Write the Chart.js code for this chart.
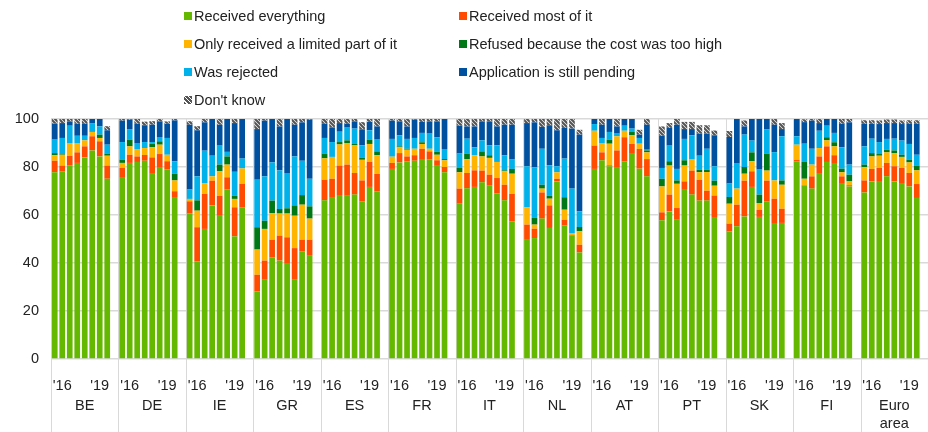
<!DOCTYPE html>
<html>
<head>
<meta charset="utf-8">
<script src="https://cdn.jsdelivr.net/npm/chart.js@4/dist/chart.umd.min.js"></script>
<style>
  body { margin: 0; background: #fff; }
  #wrap { position: relative; width: 928px; height: 432px; }
  #legend {
    position: absolute; left: 184px; top: 2px;
    display: grid; grid-template-columns: 275px auto;
    font: 14.5px "Liberation Sans", Arial, sans-serif; color: #222;
  }
  #legend .item { display: flex; align-items: center; height: 28px; white-space: nowrap; }
  #legend .sw { width: 8px; height: 8px; margin-right: 2px; }
</style>
</head>
<body>
<div id="wrap">
  <canvas id="chart" width="928" height="432"></canvas>
  <div id="legend"></div>
</div>
<script>
const countries = ['BE', 'DE', 'IE', 'GR', 'ES', 'FR', 'IT', 'NL', 'AT', 'PT', 'SK', 'FI', ['Euro', 'area']];
const yearTicks = ["'16", "'19"];
const seriesNames = ['Received everything', 'Received most of it', 'Only received a limited part of it',
  'Refused because the cost was too high', 'Was rejected', 'Application is still pending', "Don't know"];

// 8 survey rounds per country, in the order of countries above
const receivedAll = [
  77.8, 78.2, 80.7, 81.7, 84.0, 86.9, 84.4, 75.1,
  75.8, 81.7, 82.1, 82.6, 77.5, 80.0, 78.9, 67.5,
  60.6, 40.7, 54.2, 64.0, 60.0, 70.6, 51.1, 63.2,
  28.2, 33.0, 42.4, 41.0, 40.0, 33.0, 44.9, 43.0,
  66.1, 67.5, 68.3, 68.0, 68.5, 65.6, 71.7, 69.9,
  79.2, 81.9, 82.4, 82.6, 83.3, 83.1, 80.8, 77.8,
  64.7, 71.1, 71.7, 73.6, 72.2, 68.9, 66.1, 57.4,
  50.0, 50.4, 58.5, 54.6, 74.0, 55.6, 51.4, 44.4,
  79.2, 82.8, 80.3, 80.0, 82.4, 85.8, 79.3, 76.1,
  57.8, 61.5, 58.0, 70.8, 68.5, 66.0, 66.0, 58.8,
  53.2, 55.3, 59.4, 71.7, 59.2, 65.7, 56.3, 56.7,
  82.4, 72.4, 71.0, 77.5, 82.1, 81.3, 73.3, 71.9,
  69.4, 74.0, 73.8, 76.1, 74.0, 73.3, 71.9, 67.1
];
const receivedMost = [
  4.8, 2.4, 4.0, 4.4, 4.6, 5.9, 6.3, 5.5,
  3.8, 3.4, 2.3, 2.4, 6.5, 5.4, 3.5, 2.4,
  5.1, 14.2, 14.6, 10.3, 8.0, 5.1, 12.1, 9.8,
  6.9, 8.0, 7.3, 10.4, 10.7, 13.2, 4.8, 6.7,
  8.6, 7.6, 12.3, 13.0, 9.0, 8.8, 10.5, 7.2,
  2.5, 3.9, 2.0, 2.3, 4.3, 3.4, 2.0, 2.2,
  6.3, 6.4, 6.9, 4.9, 4.6, 6.5, 6.5, 11.4,
  6.0, 3.9, 10.9, 9.4, 1.1, 2.4, 0.3, 3.2,
  9.7, 3.3, 0.4, 6.9, 10.0, 3.8, 8.2, 7.2,
  3.3, 7.0, 4.9, 3.2, 10.0, 8.7, 4.1, 9.3,
  3.2, 9.0, 14.9, 6.5, 3.0, 8.6, 10.5, 5.9,
  0.5, 0.0, 5.1, 6.9, 6.5, 3.6, 2.8, 0.5,
  5.0, 5.2, 5.8, 5.6, 6.3, 6.3, 5.6, 5.8
];
const limitedPart = [
  2.3, 4.5, 5.3, 3.9, 2.5, 1.8, 1.4, 4.1,
  2.1, 3.5, 3.1, 2.9, 4.3, 3.9, 2.7, 4.5,
  1.0, 6.9, 4.5, 1.8, 10.2, 5.3, 3.5, 6.4,
  10.5, 13.2, 11.1, 9.2, 9.9, 13.5, 14.6, 8.8,
  8.9, 9.1, 8.8, 9.0, 11.5, 8.6, 7.4, 7.8,
  2.6, 2.4, 2.8, 2.7, 2.0, 1.1, 2.3, 2.8,
  6.8, 5.8, 6.3, 5.9, 7.0, 6.7, 5.6, 8.4,
  7.3, 1.7, 1.6, 2.8, 2.7, 4.2, 0.8, 5.6,
  6.2, 3.9, 9.0, 5.9, 2.7, 3.6, 2.2, 2.8,
  10.8, 12.1, 10.1, 6.6, 4.6, 3.1, 7.8, 4.1,
  8.3, 6.7, 2.9, 4.2, 2.8, 4.2, 7.6, 10.0,
  6.4, 2.7, 4.9, 3.5, 2.5, 3.7, 1.7, 1.6,
  5.5, 5.2, 5.1, 4.4, 5.5, 4.6, 4.4, 5.7
];
const refusedCost = [
  0.9, 0.3, 0.0, 0.0, 0.0, 0.0, 1.4, 0.9,
  1.4, 2.8, 0.0, 0.0, 1.4, 1.4, 0.0, 2.8,
  0.0, 4.3, 0.0, 0.0, 2.8, 3.4, 1.3, 0.0,
  9.3, 3.4, 5.2, 1.9, 2.2, 4.3, 4.0, 5.1,
  2.0, 0.0, 1.0, 1.1, 0.6, 0.8, 1.8, 1.6,
  0.0, 0.4, 0.4, 0.0, 0.7, 0.0, 1.2, 0.5,
  1.8, 2.3, 0.0, 2.1, 1.1, 0.0, 0.4, 2.0,
  0.0, 2.8, 1.6, 1.2, 0.0, 5.2, 0.0, 1.8,
  0.0, 0.0, 1.7, 0.0, 0.0, 1.4, 0.0, 0.8,
  3.2, 1.8, 1.4, 2.2, 0.0, 1.1, 1.0, 2.1,
  2.8, 0.0, 2.8, 3.7, 3.5, 7.1, 0.0, 1.8,
  0.0, 7.0, 0.0, 0.0, 1.3, 1.7, 1.5, 2.8,
  1.1, 1.4, 0.7, 1.1, 1.1, 0.9, 1.2, 2.0
];
const rejected = [
  5.6, 6.7, 7.2, 3.0, 1.9, 3.5, 3.4, 3.7,
  7.3, 4.4, 2.5, 2.5, 0.7, 1.8, 7.0, 5.2,
  3.9, 10.0, 13.5, 8.6, 7.9, 1.9, 10.0, 4.1,
  19.8, 18.5, 15.9, 16.1, 14.7, 20.4, 14.3, 11.5,
  6.5, 6.2, 4.3, 5.3, 6.4, 5.2, 3.9, 4.9,
  7.4, 4.6, 4.1, 4.5, 3.9, 6.3, 6.1, 4.2,
  6.0, 6.2, 3.3, 4.6, 4.1, 6.9, 6.3, 3.9,
  17.0, 21.1, 15.0, 12.7, 2.5, 16.1, 18.5, 6.5,
  2.8, 2.1, 3.2, 1.1, 2.1, 1.4, 2.4, 0.3,
  4.5, 6.5, 4.8, 8.9, 10.1, 5.8, 8.7, 6.0,
  5.6, 10.4, 13.5, 4.9, 10.4, 10.0, 11.8, 18.4,
  3.5, 7.6, 6.6, 7.2, 4.8, 3.9, 8.9, 4.2,
  7.6, 6.0, 5.0, 4.5, 4.9, 5.9, 6.5, 4.5
];
const pending = [
  6.7, 6.2, 1.8, 5.0, 5.0, 2.0, 3.1, 6.0,
  8.9, 3.9, 8.0, 7.0, 7.2, 6.5, 5.9, 17.0,
  27.0, 19.2, 11.8, 15.3, 8.7, 13.7, 20.3, 16.5,
  21.1, 23.2, 18.1, 18.3, 22.5, 13.2, 16.0, 24.6,
  5.9, 6.1, 3.6, 1.6, 3.0, 6.7, 3.5, 5.5,
  7.6, 5.8, 5.2, 7.6, 4.6, 5.1, 6.6, 12.5,
  11.6, 5.1, 8.7, 7.9, 10.0, 7.9, 12.7, 14.5,
  18.0, 18.7, 9.1, 16.7, 15.0, 12.8, 25.0, 32.0,
  2.5, 5.5, 5.8, 3.0, 3.2, 4.4, 1.4, 10.4,
  13.4, 7.4, 18.4, 4.1, 2.6, 9.2, 6.3, 12.9,
  19.4, 18.6, 3.4, 9.0, 21.1, 4.4, 11.4, 3.0,
  7.2, 9.0, 11.7, 3.2, 2.8, 5.8, 9.8, 17.6,
  9.4, 6.2, 7.5, 6.6, 6.5, 6.9, 8.4, 12.9
];
const dontKnow = [
  1.9, 1.7, 1.0, 2.0, 2.0, 0.0, 0.0, 1.7,
  0.7, 0.3, 2.0, 1.5, 1.5, 1.0, 1.0, 0.6,
  1.5, 1.7, 1.4, 0.0, 2.4, 0.0, 1.7, 0.0,
  4.2, 0.7, 0.0, 3.1, 0.0, 2.4, 1.4, 0.3,
  2.0, 3.5, 1.7, 2.0, 1.0, 3.0, 1.3, 3.1,
  0.7, 1.0, 3.1, 0.3, 1.2, 1.0, 1.0, 0.0,
  2.8, 3.1, 3.1, 1.0, 1.0, 3.1, 2.4, 2.4,
  1.7, 1.4, 3.3, 2.6, 4.7, 3.7, 4.0, 2.0,
  0.0, 2.4, 0.0, 3.1, 0.0, 0.0, 2.0, 2.4,
  3.9, 2.0, 2.4, 3.0, 3.0, 3.5, 3.5, 2.0,
  2.5, 0.0, 2.5, 0.0, 0.0, 0.0, 2.4, 2.5,
  0.0, 1.2, 0.7, 1.7, 0.0, 0.0, 2.0, 1.4,
  1.5, 1.5, 1.5, 1.5, 1.5, 1.5, 1.5, 1.5
];
const yTicks = [0, 20, 40, 60, 80, 100];

const ROUNDS = 8, SLOTS = 9; // one empty slot after each country

// hatched fill for "don't know"
const pc = document.createElement('canvas');
pc.width = 4; pc.height = 4;
const pctx = pc.getContext('2d');
pctx.fillStyle = '#fff';
pctx.fillRect(0, 0, 4, 4);
pctx.strokeStyle = '#555';
pctx.lineWidth = 2.2;
pctx.beginPath();
pctx.moveTo(-1, -1); pctx.lineTo(5, 5);
pctx.moveTo(-1, 3); pctx.lineTo(1, 5);
pctx.moveTo(3, -1); pctx.lineTo(5, 1);
pctx.stroke();
const hatch = pctx.createPattern(pc, 'repeat');

const colors = ['#65b800', '#ff4b00', '#ffb400', '#007816', '#00b1ea', '#0050a0', hatch];
const series = [receivedAll, receivedMost, limitedPart, refusedCost, rejected, pending, dontKnow];

function spread(arr) {
  const out = [];
  countries.forEach((c, g) => {
    for (let i = 0; i < ROUNDS; i++) out.push(arr[g * ROUNDS + i]);
    out.push(null);
  });
  return out;
}

const labels = [];
countries.forEach((c, g) => {
  for (let i = 0; i < SLOTS; i++) labels.push(g + '-' + i);
});

// legend as html, two columns
const legend = document.getElementById('legend');
seriesNames.forEach((name, i) => {
  const item = document.createElement('div');
  item.className = 'item';
  const sw = document.createElement('span');
  sw.className = 'sw';
  if (i === 6) sw.style.background = 'repeating-linear-gradient(45deg, #555 0 2px, #fff 2px 3px)';
  else sw.style.background = colors[i];
  item.appendChild(sw);
  item.appendChild(document.createTextNode(name));
  legend.appendChild(item);
});

const groupLabels = {
  id: 'groupLabels',
  beforeDatasetsDraw(chart) {
    const { ctx, chartArea, scales: { x } } = chart;
    const slot = x.getPixelForValue(1) - x.getPixelForValue(0);
    ctx.save();
    ctx.strokeStyle = '#d9d9d9';
    ctx.lineWidth = 1;
    countries.forEach((c, g) => {
      const left = Math.round(x.getPixelForValue(g * SLOTS) - slot / 2) + 0.5;
      ctx.beginPath();
      ctx.moveTo(left, chartArea.top);
      ctx.lineTo(left, chart.height);
      ctx.stroke();
    });
    ctx.restore();
  },
  afterDraw(chart) {
    const { ctx, chartArea, scales: { x } } = chart;
    ctx.save();
    ctx.fillStyle = '#222';
    ctx.font = '14.5px "Liberation Sans", Arial, sans-serif';
    ctx.textAlign = 'center';
    ctx.textBaseline = 'middle';
    const yYear = chartArea.bottom + 27;
    const yName = chartArea.bottom + 47;
    countries.forEach((c, g) => {
      ctx.fillText(yearTicks[0], x.getPixelForValue(g * SLOTS + 1), yYear);
      ctx.fillText(yearTicks[1], x.getPixelForValue(g * SLOTS + 6), yYear);
      const cx = x.getPixelForValue(g * SLOTS + 4);
      const lines = Array.isArray(c) ? c : [c];
      lines.forEach((t, k) => ctx.fillText(t, cx, yName + k * 18));
    });
    ctx.restore();
  }
};

Chart.defaults.font.family = '"Liberation Sans", Arial, sans-serif';

new Chart(document.getElementById('chart'), {
  type: 'bar',
  data: {
    labels: labels,
    datasets: series.map((arr, i) => ({
      label: seriesNames[i],
      data: spread(arr),
      backgroundColor: colors[i],
      borderWidth: 0,
      barPercentage: 0.76,
      categoryPercentage: 1
    }))
  },
  options: {
    responsive: false,
    animation: false,
    devicePixelRatio: 1,
    layout: { padding: { top: 119, bottom: 73, left: 0, right: 0 } },
    plugins: { legend: { display: false }, tooltip: { enabled: false } },
    scales: {
      x: {
        stacked: true,
        display: false,
        offset: true,
        grid: { display: false }
      },
      y: {
        stacked: true,
        min: 0,
        max: 100,
        afterFit(s) { s.width = 51; },
        afterBuildTicks(s) { s.ticks = yTicks.map(v => ({ value: v })); },
        border: { display: false },
        grid: { color: '#d9d9d9', lineWidth: 1.5, drawTicks: false },
        ticks: { padding: 12, color: '#222', font: { size: 14.5 } }
      }
    }
  },
  plugins: [groupLabels]
});
</script>
</body>
</html>
